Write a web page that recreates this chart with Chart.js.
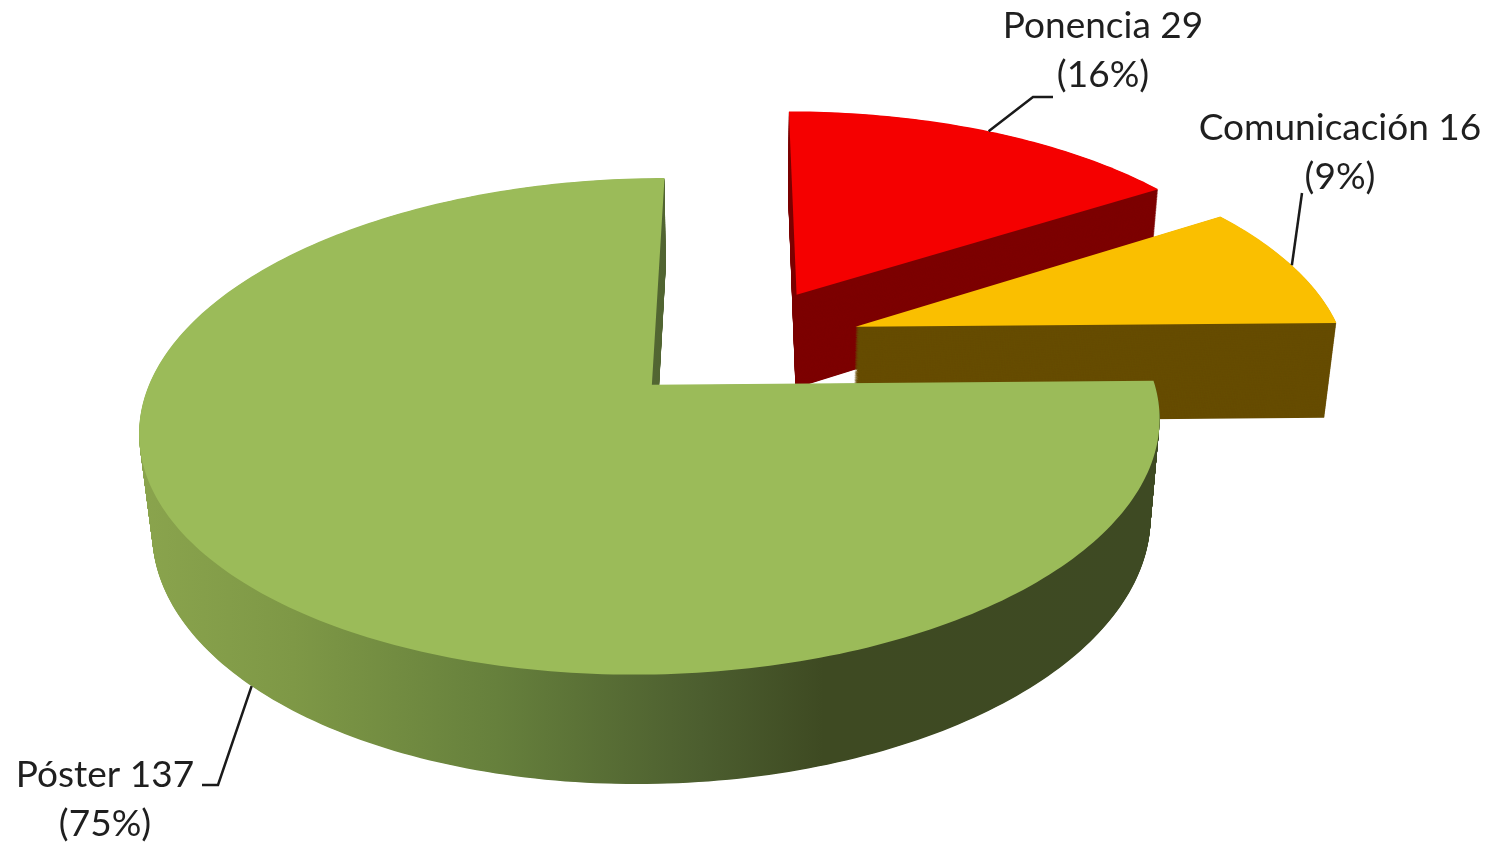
<!DOCTYPE html>
<html>
<head>
<meta charset="utf-8">
<script src="https://cdn.jsdelivr.net/npm/chart.js@4.4.1/dist/chart.umd.min.js"></script>
<style>
	html, body { margin: 0; padding: 0; background: #fff; }
	#wrap { width: 1492px; height: 844px; }
</style>
</head>
<body>
<div id="wrap"><canvas id="chart-pie-3d"></canvas></div>
<script>
var categories = ['Ponencia', 'Comunicación', 'Póster'];
var counts = [29, 16, 137];

var topColors = ['#f50000', '#fabf00', '#9bbb59'];
var sideColors = ['#7d0000', '#664c00', 'gradient'];

// camera for the fake 3d view (world units = pie radius)
var cam = {cx: 740, cy: 343, f: 2560, stretch: 1.03, dist: 5.4, tilt: Math.asin(0.48), height: 0.235};
var explode = 0.25;

// label layout: text centre x, first baseline, leader bend points
var labelStyle = [
	{x: 1103, y: 38, edge: 'top', path: [[1033, 97], [1053, 97]]},
	{x: 1340, y: 140, edge: 'top', path: [[1302, 193]]},
	{x: 105, y: 787, edge: 'bottom', path: [[218, 785], [202, 785]]}
];

function proj(x, y, z) {
	var c = Math.cos(cam.tilt), s = Math.sin(cam.tilt);
	var d = cam.dist - y * c - z * s;
	return [cam.cx + cam.stretch * cam.f * x / d, cam.cy + cam.f * (y * s - z * c) / d];
}

function slicePath(ctx, a0, a1, ox, oy, z) {
	var n = Math.max(2, Math.ceil((a1 - a0) / (Math.PI / 180)));
	var p = proj(ox, oy, z);
	ctx.beginPath();
	ctx.moveTo(p[0], p[1]);
	for (var k = 0; k <= n; k++) {
		var a = a0 + (a1 - a0) * k / n;
		p = proj(ox + Math.cos(a), oy + Math.sin(a), z);
		ctx.lineTo(p[0], p[1]);
	}
	ctx.closePath();
}

var pie3d = {
	id: 'pie3d',
	beforeDatasetsDraw: function(chart) {
		var ctx = chart.ctx;
		var meta = chart.getDatasetMeta(0);
		var total = counts.reduce(function(a, b) { return a + b; }, 0);

		var wall = ctx.createLinearGradient(140, 0, 1160, 0);
		wall.addColorStop(0, '#8aa44d');
		wall.addColorStop(0.15, '#7e9846');
		wall.addColorStop(0.35, '#66803c');
		wall.addColorStop(0.55, '#4c5e2f');
		wall.addColorStop(0.67, '#3e4a22');
		wall.addColorStop(1, '#3e4a23');

		var steps = 150;
		ctx.save();
		meta.data.forEach(function(arc, i) {
			var a0 = arc.startAngle, a1 = arc.endAngle;
			var mid = (a0 + a1) / 2;
			var ox = Math.cos(mid) * explode, oy = Math.sin(mid) * explode;
			ctx.fillStyle = sideColors[i] === 'gradient' ? wall : sideColors[i];
			for (var k = steps; k > 0; k--) {
				slicePath(ctx, a0, a1, ox, oy, -cam.height * k / steps);
				ctx.fill();
			}
			ctx.fillStyle = topColors[i];
			slicePath(ctx, a0, a1, ox, oy, 0);
			ctx.fill();
		});

		// data labels with leader lines
		ctx.font = '37px Lato';
		ctx.textAlign = 'center';
		ctx.textBaseline = 'alphabetic';
		meta.data.forEach(function(arc, i) {
			var st = labelStyle[i];
			var mid = (arc.startAngle + arc.endAngle) / 2;
			var ox = Math.cos(mid) * explode, oy = Math.sin(mid) * explode;
			var z = st.edge === 'bottom' ? -cam.height : 0;
			var p = proj(ox + Math.cos(mid), oy + Math.sin(mid), z);
			ctx.strokeStyle = '#1a1a1a';
			ctx.lineWidth = 2.5;
			ctx.beginPath();
			ctx.moveTo(p[0], p[1]);
			st.path.forEach(function(q) { ctx.lineTo(q[0], q[1]); });
			ctx.stroke();
			var pct = Math.round(counts[i] / total * 100);
			ctx.fillStyle = '#1f1f1f';
			ctx.fillText(categories[i] + ' ' + counts[i], st.x, st.y);
			ctx.fillText('(' + pct + '%)', st.x, st.y + 49);
		});
		ctx.restore();
		return false;
	}
};

var pieCanvas = document.getElementById('chart-pie-3d');
if (pieCanvas) {
	var pie = new Chart(pieCanvas, {
		type: 'pie',
		data: {
			labels: categories,
			datasets: [{
				data: counts,
				backgroundColor: topColors,
				borderWidth: 0
			}]
		},
		options: {
			responsive: true,
			maintainAspectRatio: false,
			animation: false,
			plugins: {
				legend: {display: false},
				tooltip: {enabled: false}
			}
		},
		plugins: [pie3d]
	});
}
</script>
</body>
</html>
